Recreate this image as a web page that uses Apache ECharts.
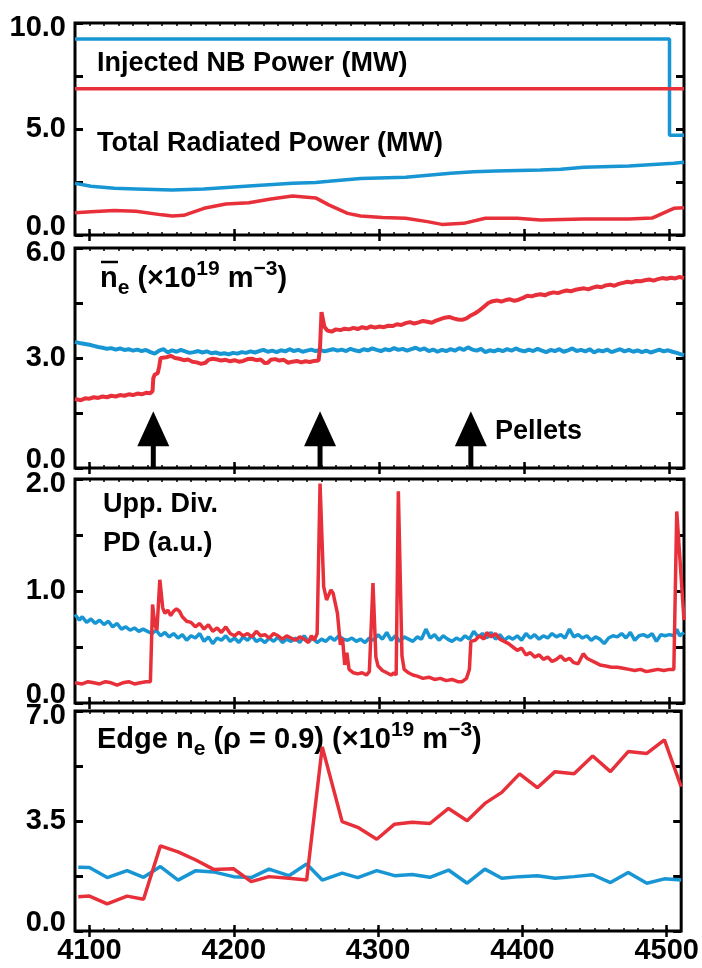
<!DOCTYPE html>
<html>
<head>
<meta charset="utf-8">
<script src="https://cdn.jsdelivr.net/npm/echarts@6/dist/echarts.min.js"></script>
<style>html,body{margin:0;padding:0;background:#fff;}#chart{width:702px;height:968px;}</style>
</head>
<body>
<div id="chart"></div>
<script>
// ---------------- DATA ----------------
const xTickValues = [4100, 4200, 4300, 4400, 4500];
const xMin = 4090, xMax = 4510;

// Panel 1: powers (MW)
const nbPower = [[4090, 9.25], [4500, 9.25], [4500, 4.7], [4510, 4.7]];
const nbPowerRef = [[4090, 6.9], [4510, 6.9]];
const radPowerBlue = [[4090, 2.44], [4101, 2.3], [4117, 2.2], [4132, 2.17], [4157, 2.12], [4179, 2.17], [4210, 2.31], [4240, 2.44], [4256, 2.48], [4265, 2.53], [4287, 2.67], [4318, 2.72], [4349, 2.91], [4365, 2.98], [4380, 3.02], [4411, 3.07], [4425, 3.10], [4441, 3.20], [4472, 3.26], [4503, 3.38], [4510, 3.43]];
const radPowerRed = [[4090, 1.05], [4101, 1.1], [4117, 1.15], [4132, 1.12], [4150, 0.95], [4157, 0.90], [4165, 0.93], [4179, 1.26], [4194, 1.46], [4210, 1.52], [4225, 1.70], [4240, 1.84], [4256, 1.75], [4265, 1.42], [4278, 1.02], [4287, 0.90], [4302, 0.83], [4318, 0.79], [4333, 0.63], [4343, 0.50], [4358, 0.55], [4373, 0.79], [4395, 0.79], [4411, 0.71], [4441, 0.75], [4472, 0.75], [4488, 0.80], [4503, 1.26], [4510, 1.29]];

// Panel 2: line-averaged density (1e19 m^-3)
const neRed = [[4090,1.88],[4094,1.85],[4097,1.90],[4100,1.89],[4103,1.93],[4106,1.91],[4109,1.95],[4112,1.93],[4115,1.97],[4118,1.95],[4121,1.99],[4124,1.97],[4127,2.01],[4130,1.99],[4133,2.03],[4136,2.01],[4139,2.05],[4142,2.04],[4143.5,2.10],[4144,2.45],[4145,2.55],[4146,2.60],[4147,2.58],[4148,2.75],[4149,3.00],[4150,3.05],[4153,3.02],[4156,3.06],[4159,3.00],[4162,2.98],[4165,2.94],[4168,2.96],[4171,2.90],[4174,2.88],[4177,2.84],[4180,2.87],[4182,2.95],[4185,2.98],[4188,2.96],[4191,2.93],[4194,2.95],[4197,2.91],[4200,2.94],[4203,2.90],[4206,2.92],[4209,2.97],[4212,2.98],[4215,2.94],[4218,2.96],[4221,2.86],[4223,2.87],[4225,2.95],[4228,2.97],[4231,2.93],[4234,2.95],[4237,2.87],[4240,2.90],[4243,2.92],[4246,2.88],[4249,2.91],[4252,2.89],[4255,2.92],[4258,2.93],[4259,3.3],[4260,4.25],[4261,4.05],[4262,3.85],[4264,3.75],[4267,3.72],[4270,3.78],[4273,3.76],[4276,3.80],[4279,3.78],[4282,3.82],[4285,3.79],[4288,3.84],[4291,3.81],[4294,3.86],[4297,3.83],[4300,3.86],[4303,3.84],[4306,3.88],[4309,3.87],[4312,3.92],[4315,3.90],[4318,3.95],[4321,3.98],[4324,3.94],[4327,3.97],[4330,4.01],[4333,3.99],[4336,3.96],[4339,4.02],[4342,4.06],[4345,4.10],[4348,4.12],[4351,4.08],[4354,4.05],[4357,4.04],[4360,4.08],[4363,4.16],[4366,4.22],[4369,4.30],[4372,4.40],[4375,4.50],[4378,4.55],[4381,4.57],[4384,4.54],[4387,4.58],[4390,4.60],[4393,4.56],[4396,4.59],[4399,4.64],[4402,4.70],[4405,4.68],[4408,4.72],[4411,4.74],[4414,4.71],[4417,4.76],[4420,4.79],[4423,4.77],[4426,4.81],[4429,4.84],[4432,4.82],[4435,4.86],[4438,4.88],[4441,4.90],[4444,4.87],[4447,4.92],[4450,4.95],[4453,4.93],[4456,4.98],[4459,5.00],[4462,4.97],[4465,5.02],[4468,5.05],[4471,5.08],[4474,5.06],[4477,5.10],[4480,5.09],[4483,5.12],[4486,5.14],[4489,5.11],[4492,5.15],[4495,5.18],[4498,5.16],[4501,5.19],[4504,5.17],[4507,5.21],[4510,5.18]];
const neBlue = [[4090,3.44],[4094,3.40],[4097,3.38],[4100,3.36],[4103,3.33],[4106,3.30],[4109,3.28],[4112,3.25],[4115,3.27],[4118,3.23],[4121,3.26],[4124,3.22],[4127,3.24],[4130,3.20],[4133,3.23],[4136,3.19],[4139,3.22],[4142,3.16],[4145,3.12],[4148,3.20],[4151,3.24],[4154,3.15],[4157,3.21],[4160,3.17],[4163,3.22],[4166,3.18],[4169,3.14],[4172,3.16],[4175,3.19],[4178,3.15],[4181,3.18],[4184,3.13],[4187,3.15],[4190,3.11],[4193,3.13],[4196,3.10],[4199,3.14],[4202,3.12],[4205,3.16],[4208,3.14],[4211,3.18],[4214,3.15],[4217,3.19],[4220,3.22],[4223,3.17],[4226,3.20],[4229,3.16],[4232,3.21],[4235,3.18],[4238,3.24],[4241,3.19],[4244,3.22],[4247,3.17],[4250,3.20],[4253,3.23],[4256,3.19],[4259,3.22],[4262,3.18],[4265,3.21],[4268,3.24],[4271,3.20],[4274,3.23],[4277,3.19],[4280,3.25],[4283,3.21],[4286,3.18],[4289,3.24],[4292,3.21],[4295,3.26],[4298,3.22],[4301,3.19],[4304,3.24],[4307,3.21],[4310,3.27],[4313,3.22],[4316,3.25],[4319,3.20],[4322,3.24],[4325,3.28],[4328,3.22],[4331,3.26],[4334,3.19],[4337,3.23],[4340,3.17],[4343,3.22],[4346,3.19],[4349,3.24],[4352,3.20],[4355,3.27],[4358,3.22],[4361,3.29],[4364,3.23],[4367,3.20],[4370,3.25],[4373,3.16],[4376,3.21],[4379,3.18],[4382,3.23],[4385,3.19],[4388,3.24],[4391,3.20],[4394,3.26],[4397,3.21],[4400,3.18],[4403,3.23],[4406,3.19],[4409,3.25],[4412,3.20],[4415,3.16],[4418,3.22],[4421,3.19],[4424,3.24],[4427,3.17],[4430,3.21],[4433,3.26],[4436,3.19],[4439,3.22],[4442,3.18],[4445,3.24],[4448,3.15],[4451,3.21],[4454,3.18],[4457,3.23],[4460,3.16],[4463,3.20],[4466,3.24],[4469,3.18],[4472,3.22],[4475,3.17],[4478,3.21],[4481,3.16],[4484,3.20],[4487,3.15],[4490,3.19],[4493,3.23],[4496,3.18],[4499,3.21],[4502,3.17],[4505,3.14],[4508,3.10],[4510,3.08]];
const pelletTimes = [4144, 4259, 4363];
const pelletArrowTip = 1.55;

// Panel 3: upper divertor photodiode (a.u.)
const pdRed = [[4090,0.18],[4095,0.17],[4099,0.19],[4103,0.18],[4107,0.17],[4111,0.19],[4115,0.18],[4119,0.16],[4123,0.18],[4127,0.19],[4131,0.17],[4135,0.18],[4139,0.19],[4142,0.19],[4143.5,0.88],[4145,0.70],[4146.5,0.65],[4148.5,1.10],[4150.5,0.85],[4152,0.80],[4154,0.83],[4156,0.78],[4158,0.82],[4160,0.84],[4162,0.82],[4164,0.77],[4167,0.73],[4170,0.72],[4173,0.68],[4176,0.71],[4179,0.66],[4182,0.70],[4185,0.64],[4188,0.67],[4191,0.63],[4194,0.68],[4197,0.62],[4200,0.60],[4203,0.63],[4206,0.60],[4209,0.62],[4212,0.59],[4215,0.64],[4218,0.60],[4221,0.61],[4224,0.58],[4227,0.62],[4230,0.60],[4233,0.57],[4236,0.60],[4239,0.58],[4242,0.56],[4245,0.59],[4248,0.57],[4251,0.54],[4253,0.60],[4255,0.56],[4257,0.62],[4259,1.96],[4261.5,1.04],[4263.5,0.92],[4266.5,1.01],[4268,0.98],[4271,0.80],[4273,0.52],[4274.5,0.58],[4276,0.34],[4277.5,0.45],[4279,0.30],[4282,0.27],[4285,0.26],[4288,0.27],[4291,0.25],[4293,0.28],[4295.5,1.07],[4297.5,0.41],[4299,0.33],[4302,0.29],[4305,0.27],[4308,0.25],[4310,0.27],[4311.5,0.25],[4313,1.89],[4315.5,0.42],[4317,0.30],[4320,0.27],[4323,0.25],[4326,0.24],[4330,0.22],[4334,0.23],[4338,0.21],[4342,0.22],[4346,0.20],[4350,0.21],[4354,0.19],[4357,0.19],[4360,0.22],[4362,0.30],[4363,0.55],[4366,0.56],[4369,0.60],[4372,0.57],[4374,0.63],[4377,0.59],[4380,0.62],[4383,0.57],[4386,0.55],[4389,0.53],[4392,0.50],[4395,0.47],[4398,0.49],[4401,0.43],[4404,0.45],[4407,0.41],[4410,0.43],[4413,0.39],[4416,0.41],[4419,0.37],[4422,0.39],[4425,0.42],[4428,0.38],[4431,0.40],[4434,0.36],[4437,0.35],[4440.5,0.44],[4443,0.40],[4446,0.38],[4449,0.36],[4452,0.34],[4456,0.33],[4460,0.32],[4464,0.32],[4468,0.31],[4472,0.30],[4476,0.29],[4480,0.30],[4484,0.28],[4488,0.29],[4492,0.30],[4496,0.29],[4500,0.30],[4503,0.30],[4505,1.71],[4510,0.74]];
const pdBlue = [[4090,0.79],[4093,0.74],[4095,0.77],[4098,0.72],[4101,0.75],[4104,0.71],[4107,0.74],[4110,0.70],[4113,0.73],[4116,0.68],[4119,0.71],[4122,0.66],[4125,0.68],[4128,0.65],[4131,0.67],[4134,0.64],[4137,0.66],[4140,0.64],[4143,0.62],[4146,0.65],[4149,0.60],[4152,0.63],[4155,0.59],[4158,0.62],[4161,0.58],[4164,0.61],[4167,0.56],[4170,0.60],[4173,0.58],[4176,0.62],[4179,0.55],[4182,0.59],[4185,0.53],[4188,0.58],[4191,0.56],[4194,0.60],[4197,0.55],[4200,0.58],[4203,0.54],[4206,0.59],[4209,0.56],[4212,0.60],[4215,0.55],[4218,0.57],[4221,0.54],[4224,0.58],[4227,0.55],[4230,0.59],[4233,0.54],[4236,0.57],[4239,0.55],[4242,0.58],[4245,0.54],[4248,0.60],[4251,0.55],[4254,0.58],[4257,0.54],[4260,0.57],[4263,0.55],[4266,0.59],[4269,0.56],[4272,0.60],[4275,0.57],[4278,0.56],[4281,0.58],[4284,0.55],[4287,0.57],[4290,0.54],[4293,0.58],[4296,0.56],[4299,0.61],[4302,0.57],[4305,0.63],[4308,0.56],[4311,0.60],[4314,0.55],[4317,0.59],[4320,0.57],[4323,0.55],[4326,0.59],[4329,0.57],[4332,0.66],[4335,0.58],[4338,0.61],[4341,0.56],[4344,0.60],[4347,0.57],[4350,0.55],[4353,0.58],[4356,0.56],[4359,0.60],[4362,0.57],[4365,0.64],[4368,0.59],[4371,0.62],[4374,0.58],[4377,0.63],[4380,0.57],[4383,0.61],[4386,0.56],[4389,0.59],[4392,0.57],[4395,0.60],[4398,0.56],[4401,0.62],[4404,0.58],[4407,0.61],[4410,0.57],[4413,0.60],[4416,0.58],[4419,0.62],[4422,0.59],[4425,0.61],[4428,0.58],[4431,0.66],[4434,0.59],[4437,0.61],[4440,0.58],[4443,0.60],[4446,0.56],[4449,0.59],[4452,0.57],[4455,0.53],[4458,0.58],[4461,0.60],[4464,0.59],[4467,0.62],[4470,0.58],[4473,0.63],[4476,0.56],[4479,0.60],[4482,0.61],[4485,0.59],[4488,0.62],[4491,0.55],[4494,0.61],[4497,0.60],[4500,0.61],[4503,0.60],[4505,0.66],[4507,0.60],[4510,0.63]];

// Panel 4: edge density at rho=0.9 (1e19 m^-3)
const edgeTimes = [4092.3,4100,4112.3,4126.1,4137.5,4149.2,4161.4,4173.7,4186,4199.8,4212.1,4224.4,4238.2,4250.5,4261.3,4275.1,4285.9,4299.1,4311.4,4323.6,4335.9,4348.8,4361.7,4374,4385.7,4398,4410.3,4422.6,4435.8,4448.7,4461,4473.3,4486.2,4498.4,4510];
const edgeRed = [1.09,1.11,0.86,1.11,1.01,2.71,2.52,2.26,1.96,1.98,1.57,1.73,1.68,1.62,5.86,3.48,3.30,2.92,3.40,3.46,3.42,3.90,3.51,4.06,4.41,5.00,4.56,5.07,5.00,5.57,5.07,5.71,5.65,6.08,4.59];
const edgeBlue = [2.03,2.02,1.70,1.92,1.71,2.05,1.62,1.92,1.88,1.73,1.70,1.97,1.76,2.13,1.62,1.84,1.70,1.92,1.76,1.80,1.71,1.94,1.52,1.97,1.68,1.73,1.76,1.68,1.73,1.79,1.54,1.86,1.52,1.66,1.62];

// panel y-axis definitions
const yRanges = [ {max: 10, interval: 2.5}, {max: 6, interval: 1.5}, {max: 2, interval: 0.5}, {max: 7, interval: 1.75} ];
const yTickLabels = [ [0, 5, 10], [0, 3, 6], [0, 1, 2], [0, 3.5, 7] ];

// ---------------- STYLE / LAYOUT ----------------
const BLUE = '#1896d4', RED = '#e8303a';
const FONT = '"Liberation Sans", Arial, Helvetica, sans-serif';
const panels = [ {top: 23, height: 212}, {top: 248, height: 220}, {top: 479, height: 224}, {top: 711, height: 220} ];
const GRID_LEFT = 75, GRID_WIDTH = 609;

const chart = echarts.init(document.getElementById('chart'), null, {renderer: 'canvas'});

const grids = [], xAxes = [], yAxes = [];
const baseLbl = {fontFamily: FONT, fontWeight: 'bold', fontSize: 29, color: '#000'};
panels.forEach((p, g) => {
  grids.push({left: GRID_LEFT, width: GRID_WIDTH, top: p.top, height: p.height, show: true, borderColor: '#000', borderWidth: 3, backgroundColor: 'transparent', containLabel: false});
  const isLast = g === panels.length - 1;
  ['bottom', 'top'].forEach(pos => {
    xAxes.push({
      gridIndex: g, type: 'value', position: pos, min: xMin, max: xMax,
      axisLine: {show: false}, splitLine: {show: false},
      axisTick: {show: true, inside: true, length: 6, customValues: xTickValues, lineStyle: {color: '#000', width: 2.5}},
      axisLabel: (isLast && pos === 'bottom') ? Object.assign({show: true, margin: 5, customValues: xTickValues, formatter: v => String(v)}, baseLbl) : {show: false}
    });
  });
  ['bottom', 'top'].forEach(pos => {
    xAxes.push({
      gridIndex: g, type: 'value', position: pos, min: xMin, max: xMax, interval: 10,
      axisLine: {show: false}, splitLine: {show: false}, axisLabel: {show: false},
      axisTick: {show: true, inside: true, length: 3, lineStyle: {color: '#000', width: 1.5}}
    });
  });
  const yr = yRanges[g];
  const fmt = v => {
    const s = v.toFixed(1);
    if (Math.abs(v - yr.max) < 1e-9) return '{hi|' + s + '}';
    if (Math.abs(v) < 1e-9) return '{lo|' + s + '}';
    return '{mid|' + s + '}';
  };
  yAxes.push({
    gridIndex: g, type: 'value', position: 'left', min: 0, max: yr.max, interval: yr.interval,
    axisLine: {show: false}, splitLine: {show: false},
    axisTick: {show: true, inside: true, length: 8, lineStyle: {color: '#000', width: 3}},
    axisLabel: Object.assign({show: true, margin: 9, customValues: yTickLabels[g], formatter: fmt,
      rich: {
        hi: Object.assign({padding: [10, 0, 0, 0]}, baseLbl),
        lo: Object.assign({padding: [0, 0, 16, 0]}, baseLbl),
        mid: Object.assign({}, baseLbl)
      }}, baseLbl)
  });
  yAxes.push({
    gridIndex: g, type: 'value', position: 'right', min: 0, max: yr.max, interval: yr.interval,
    axisLine: {show: false}, splitLine: {show: false}, axisLabel: {show: false},
    axisTick: {show: true, inside: true, length: 8, lineStyle: {color: '#000', width: 3}}
  });
});

function line(g, data, color, w) {
  return {type: 'line', xAxisIndex: 4 * g, yAxisIndex: 2 * g, data: data, showSymbol: false, symbol: 'none',
    lineStyle: {color: color, width: w || 3.5}, itemStyle: {color: color}, animation: false, z: 3};
}

const series = [
  line(0, nbPower, BLUE), line(0, nbPowerRef, RED), line(0, radPowerBlue, BLUE), line(0, radPowerRed, RED),
  line(1, neBlue, BLUE, 4), line(1, neRed, RED, 4),
  line(2, pdBlue, BLUE), line(2, pdRed, RED),
  line(3, edgeTimes.map((t, i) => [t, edgeBlue[i]]), BLUE), line(3, edgeTimes.map((t, i) => [t, edgeRed[i]]), RED),
  {
    type: 'custom', xAxisIndex: 4, yAxisIndex: 2, data: pelletTimes.map(t => [t, pelletArrowTip]), z: 5,
    renderItem: function (params, api) {
      const b = api.coord([api.value(0), 0]);
      const p = api.coord([api.value(0), api.value(1)]);
      const headLen = 35, halfW = 16;
      return {type: 'group', children: [
        {type: 'rect', shape: {x: b[0] - 2.5, y: p[1] + headLen - 1, width: 5, height: b[1] - p[1] - headLen + 1}, style: {fill: '#000'}},
        {type: 'polygon', shape: {points: [[p[0], p[1]], [p[0] - halfW, p[1] + headLen], [p[0] + halfW, p[1] + headLen]]}, style: {fill: '#000'}}
      ]};
    }
  }
];

const T = {fontFamily: FONT, fontWeight: 'bold', fontSize: 27, fill: '#000'};
const richDens = {
  t: {fontFamily: FONT, fontWeight: 'bold', fontSize: 29, color: '#000', verticalAlign: 'middle'},
  sub: {fontFamily: FONT, fontWeight: 'bold', fontSize: 21, color: '#000', padding: [20, 0, 0, 0], verticalAlign: 'middle'},
  sup: {fontFamily: FONT, fontWeight: 'bold', fontSize: 21, color: '#000', padding: [0, 0, 18, 0], verticalAlign: 'middle'}
};
const graphic = [
  {type: 'text', left: 97, top: 50, style: Object.assign({text: 'Injected NB Power (MW)'}, T)},
  {type: 'text', left: 97, top: 130, style: Object.assign({text: 'Total Radiated Power (MW)'}, T)},
  {type: 'text', left: 100, top: 259, style: {text: '{t|n}{sub|e}{t| (×10}{sup|19}{t| m}{sup|−3}{t|)}', rich: richDens, fontFamily: FONT, fontWeight: 'bold', fontSize: 29}},
  {type: 'line', shape: {x1: 101, y1: 262, x2: 118, y2: 262}, style: {stroke: '#000', lineWidth: 2.5}},
  {type: 'text', left: 495, top: 418, style: Object.assign({text: 'Pellets'}, T)},
  {type: 'text', left: 103, top: 491, style: Object.assign({text: 'Upp. Div.'}, T)},
  {type: 'text', left: 103, top: 530, style: Object.assign({text: 'PD (a.u.)'}, T)},
  {type: 'text', left: 97, top: 720, style: {text: '{t|Edge n}{sub|e}{t| (ρ = 0.9) (×10}{sup|19}{t| m}{sup|−3}{t|)}', rich: richDens, fontFamily: FONT, fontWeight: 'bold', fontSize: 29}}
];

chart.setOption({
  animation: false,
  backgroundColor: '#fff',
  grid: grids, xAxis: xAxes, yAxis: yAxes, series: series, graphic: graphic
});
</script>
</body>
</html>
